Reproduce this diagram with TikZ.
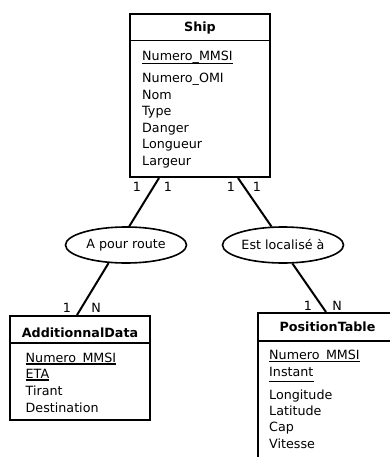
\documentclass[tikz,border=0pt]{standalone}
\usepackage{fontspec}
\setmainfont{DejaVu Sans}
\usetikzlibrary{calc,shapes.geometric}
\begin{document}
\begin{tikzpicture}[x=1pt,y=-1pt,
  every node/.style={font=\fontsize{12.7}{15}\selectfont, inner sep=0pt},
  entity/.style={draw, line width=2pt, rectangle, inner sep=0pt},
  attr/.style={anchor=base west},
  etitle/.style={anchor=base, font=\fontsize{12.7}{15}\selectfont\bfseries},
  rel/.style={draw, ellipse, line width=1.6pt, minimum width=121pt, minimum height=36pt},
  link/.style={line width=2pt},
  card/.style={anchor=base},
  keyline/.style={line width=1.8pt},
  hline/.style={line width=1.4pt}]
\useasboundingbox (0,0) rectangle (390,457);
\clip (0,0) rectangle (390,457);

% Ship
\node[entity, minimum width=140pt, minimum height=163pt] (ship) at (200,95.5) {};
\draw[hline] ($(ship.north west)+(0,27.5)$) -- ($(ship.north east)+(0,27.5)$);
\node[etitle] (shipT) at (200,32) {Ship};
\node[attr] (s1) at (142,61) {Numero\_MMSI};
\draw[keyline] ($(s1.base west)+(0,2.5)$) -- ($(s1.base east)+(0,2.5)$);
\node[attr] (s2) at (142,83) {Numero\_OMI};
\node[attr] (s3) at (142,99.5) {Nom};
\node[attr] (s4) at (142,116) {Type};
\node[attr] (s5) at (142,132.5) {Danger};
\node[attr] (s6) at (142,149) {Longueur};
\node[attr] (s7) at (142,165.5) {Largeur};

% AdditionnalData
\node[entity, minimum width=140pt, minimum height=104pt] (add) at (80,368) {};
\draw[hline] ($(add.north west)+(0,28)$) -- ($(add.north east)+(0,28)$);
\node[etitle] (addT) at (80,337) {AdditionnalData};
\node[attr] (a1) at (25.5,362) {Numero\_MMSI};
\draw[keyline] ($(a1.base west)+(0,2)$) -- ($(a1.base east)+(0,2)$);
\node[attr] (a2) at (25.5,378) {ETA};
\draw[keyline] ($(a2.base west)+(0,2)$) -- ($(a2.base east)+(0,2)$);
\node[attr] (a3) at (25.5,395) {Tirant};
\node[attr] (a4) at (25.5,412) {Destination};

% PositionTable
\node[entity, minimum width=140pt, minimum height=160pt] (pos) at (328,393) {};
\draw[hline] ($(pos.north west)+(0,29)$) -- ($(pos.north east)+(0,29)$);
\node[etitle] (posT) at (327.5,331) {PositionTable};
\node[attr] (p1) at (269,359) {Numero\_MMSI};
\draw[keyline] ($(p1.base west)+(0,2.5)$) -- ($(p1.base east)+(0,2.5)$);
\node[attr] (p2) at (269,376) {Instant};
\draw[keyline] ($(p2.base west)+(0,5.5)$) -- ($(p2.base east)+(0,5.5)$);
\node[attr] (p3) at (269,399) {Longitude};
\node[attr] (p4) at (269,415.5) {Latitude};
\node[attr] (p5) at (269,431.5) {Cap};
\node[attr] (p6) at (269,448) {Vitesse};

% Relations
\node[rel] (route) at (126,245) {A pour route};
\node[rel] (loc) at (283,245) {Est localisé à};

\draw[link] ($(ship.south west)+(30,0)$) -- (route.80);
\draw[link] (route.226) -- ($(add.north west)+(68,0)$);
\draw[link] ($(ship.south east)+(-33,0)$) -- (loc.122);
\draw[link] (loc.-63) -- ($(pos.north west)+(69,0)$);

% Cardinalities
\node[card] (c1) at (137,191) {1};
\node[card] (c2) at (168,191) {1};
\node[card] (c3) at (231,191) {1};
\node[card] (c4) at (257,191) {1};
\node[card] (c5) at (67,312) {1};
\node[card] (c6) at (96,312) {N};
\node[card] (c7) at (308,310) {1};
\node[card] (c8) at (337,310) {N};
\end{tikzpicture}
\end{document}
